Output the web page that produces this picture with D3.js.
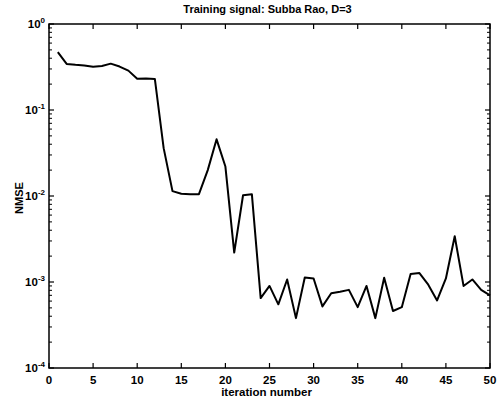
<!DOCTYPE html>
<html>
<head>
<meta charset="utf-8">
<script src="https://cdn.jsdelivr.net/npm/d3@7"></script>
<style>
body { margin: 0; background: #fff; }
text { font-family: "Liberation Sans", Arial, sans-serif; fill: #000; }
</style>
</head>
<body>
<script>
// data
var iterations = d3.range(1, 51);
var nmse = [0.47, 0.343, 0.335, 0.33, 0.318, 0.325, 0.346, 0.32, 0.287, 0.231,
            0.232, 0.23, 0.036, 0.0114, 0.0106, 0.0105, 0.0105, 0.020, 0.0456, 0.022,
            0.0022, 0.0102, 0.0105, 0.00065, 0.0009, 0.00055, 0.00107, 0.00038, 0.00113, 0.0011,
            0.00052, 0.00074, 0.00077, 0.00081, 0.00051, 0.0009, 0.00038, 0.00112, 0.00046, 0.00051,
            0.00124, 0.00127, 0.00093, 0.00061, 0.0011, 0.0034, 0.0009, 0.00107, 0.00081, 0.0007];
var xTicks = [0, 5, 10, 15, 20, 25, 30, 35, 40, 45, 50];
var yDecades = [-4, -3, -2, -1, 0];

// set the dimensions and margins of the graph
var margin = {top: 24, right: 9, bottom: 37, left: 49},
width = 499 - margin.left - margin.right,
height = 405 - margin.top - margin.bottom;

var x = d3.scaleLinear().domain([0, 50]).range([0, width]);
var y = d3.scaleLog().domain([1e-4, 1]).range([height, 0]);

var svg = d3.select("body").append("svg")
.attr("width", 499)
.attr("height", 405)
.append("g")
.attr("transform", "translate(" + margin.left + "," + margin.top + ")");

// minor ticks for log axis
var minor = [];
yDecades.slice(0, 4).forEach(function(e) {
  for (var k = 2; k <= 9; k++) minor.push(k * Math.pow(10, e));
});

// box
svg.append("rect")
.attr("width", width).attr("height", height)
.attr("fill", "none").attr("stroke", "#000").attr("stroke-width", 1.5);

// x ticks (inward, bottom and top)
xTicks.forEach(function(t) {
  svg.append("line").attr("x1", x(t)).attr("x2", x(t)).attr("y1", height).attr("y2", height - 5)
  .attr("stroke", "#000").attr("stroke-width", 1.2);
  svg.append("line").attr("x1", x(t)).attr("x2", x(t)).attr("y1", 0).attr("y2", 5)
  .attr("stroke", "#000").attr("stroke-width", 1.2);
  svg.append("text").attr("x", x(t)).attr("y", height + 16)
  .attr("text-anchor", "middle").style("font-size", "11.5px").style("font-weight", "bold")
  .text(t);
});

// y ticks
yDecades.forEach(function(e) {
  var v = Math.pow(10, e);
  svg.append("line").attr("x1", 0).attr("x2", 5).attr("y1", y(v)).attr("y2", y(v))
  .attr("stroke", "#000").attr("stroke-width", 1.2);
  svg.append("line").attr("x1", width).attr("x2", width - 5).attr("y1", y(v)).attr("y2", y(v))
  .attr("stroke", "#000").attr("stroke-width", 1.2);
  var lbl = svg.append("text").attr("x", -4).attr("y", y(v) + 4)
  .attr("text-anchor", "end").style("font-size", "11.5px").style("font-weight", "bold");
  lbl.append("tspan").text("10");
  lbl.append("tspan").attr("dy", -5).style("font-size", "8px").text(e);
});
minor.forEach(function(v) {
  svg.append("line").attr("x1", 0).attr("x2", 3).attr("y1", y(v)).attr("y2", y(v))
  .attr("stroke", "#000").attr("stroke-width", 1);
  svg.append("line").attr("x1", width).attr("x2", width - 3).attr("y1", y(v)).attr("y2", y(v))
  .attr("stroke", "#000").attr("stroke-width", 1);
});

// the curve
var line = d3.line()
.x(function(d, i) { return x(iterations[i]); })
.y(function(d) { return y(d); });

svg.append("path").datum(nmse)
.attr("d", line)
.attr("fill", "none").attr("stroke", "#000").attr("stroke-width", 2)
.attr("stroke-linejoin", "round");

// labels
svg.append("text").attr("x", width / 2 - 2).attr("y", -11)
.attr("text-anchor", "middle").style("font-size", "11px").style("font-weight", "bold")
.text("Training signal: Subba Rao, D=3");

svg.append("text").attr("x", width / 2 - 3).attr("y", height + 28)
.attr("text-anchor", "middle").style("font-size", "11.5px").style("font-weight", "bold")
.text("iteration number");

svg.append("text").attr("transform", "translate(-26," + (height / 2 + 2) + ") rotate(-90)")
.attr("text-anchor", "middle").style("font-size", "11px").style("font-weight", "bold")
.text("NMSE");
</script>
</body>
</html>
